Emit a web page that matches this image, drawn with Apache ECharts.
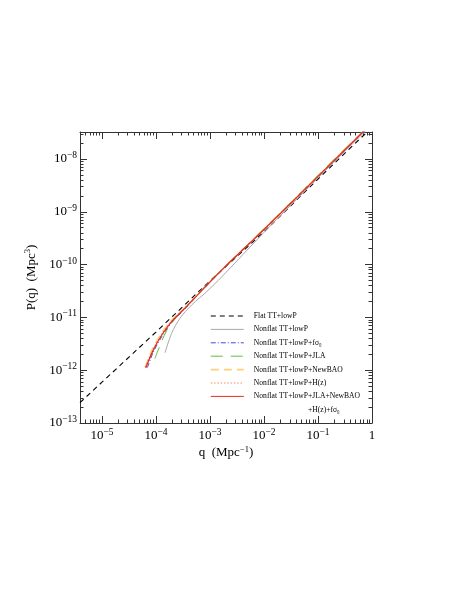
<!DOCTYPE html>
<html><head><meta charset="utf-8">
<script src="https://cdn.jsdelivr.net/npm/echarts@6/dist/echarts.min.js"></script>
<style>html,body{margin:0;padding:0;background:#fff}#c{width:463px;height:599px}</style>
</head><body><div id="c"></div>
<script>
// ---- data (q in Mpc^-1, P in Mpc^3) ----
const seriesNames = ['Flat TT+lowP','Nonflat TT+lowP','Nonflat TT+lowP+fσ₈','Nonflat TT+lowP+JLA','Nonflat TT+lowP+NewBAO','Nonflat TT+lowP+H(z)','Nonflat TT+lowP+JLA+NewBAO'];
const qFlat = [3.92e-6, 1e-5, 1e-4, 1e-3, 1e-2, 1e-1, 1];
const pFlat = [2.43e-13, 5.93e-13, 5.28e-12, 4.90e-11, 4.17e-10, 4.17e-9, 3.98e-8];
const qNonflat = [1.47e-4, 1.95e-4, 2.78e-4, 4.58e-4, 8.69e-4, 1.66e-3, 1e-2, 1e-1, 1];
const pNonflat = [2.14e-12, 5.00e-12, 9.62e-12, 1.72e-11, 3.07e-11, 5.89e-11, 4.07e-10, 4.37e-9, 4.47e-8];
const qFs8 = [6.92e-5, 8.91e-5, 1.29e-4, 1.95e-4, 3.72e-4, 6.46e-4, 1.66e-3, 1e-2, 1e-1, 1];
const pFs8 = [1.12e-12, 2.19e-12, 4.37e-12, 7.94e-12, 1.58e-11, 2.88e-11, 7.76e-11, 4.57e-10, 4.57e-9, 4.68e-8];
const qJLA = [9.55e-5, 1.20e-4, 1.58e-4, 2.24e-4, 3.72e-4, 6.46e-4, 1.66e-3, 1e-2, 1e-1, 1];
const pJLA = [1.66e-12, 3.02e-12, 5.62e-12, 9.33e-12, 1.66e-11, 3.02e-11, 8.13e-11, 4.79e-10, 4.90e-9, 5.01e-8];
const qBAO = [6.31e-5, 8.71e-5, 1.26e-4, 1.91e-4, 3.72e-4, 6.46e-4, 1.66e-3, 1e-2, 1e-1, 1];
const pBAO = [1.17e-12, 2.63e-12, 5.01e-12, 8.71e-12, 1.66e-11, 2.95e-11, 7.94e-11, 4.68e-10, 4.79e-9, 4.90e-8];
const qHz = [6.31e-5, 8.91e-5, 1.29e-4, 1.95e-4, 3.72e-4, 6.46e-4, 1.66e-3, 1e-2, 1e-1, 1];
const pHz = [1.15e-12, 2.51e-12, 4.90e-12, 8.51e-12, 1.64e-11, 2.95e-11, 7.94e-11, 4.62e-10, 4.68e-9, 4.79e-8];
const qAll = [6.46e-5, 8.91e-5, 1.29e-4, 1.95e-4, 3.72e-4, 6.46e-4, 1.66e-3, 1e-2, 1e-1, 1];
const pAll = [1.10e-12, 2.40e-12, 4.68e-12, 8.32e-12, 1.62e-11, 2.95e-11, 7.94e-11, 4.62e-10, 4.68e-9, 4.79e-8];
// axis extents and ticks (decades)
const xMin = 3.92e-6, xMax = 1;
const yMin = 1e-13, yMax = 3.24e-8;
const xMajor = [1e-5, 1e-4, 1e-3, 1e-2, 1e-1, 1];
const yMajor = [1e-13, 1e-12, 1e-11, 1e-10, 1e-9, 1e-8];
const minorMult = [2,3,4,5,6,7,8,9];

const FONT = 'Liberation Serif';
const L = Math.log10;
const toXY = (qs, ps) => qs.map((q, i) => [L(q), L(ps[i])]);
function minors(majors, lo, hi) {
  const out = [];
  const decs = [L(majors[0]) - 1].concat(majors.map(L));
  decs.forEach(d => minorMult.forEach(k => { const v = d + L(k); if (v > L(lo) && v < L(hi)) out.push(v); }));
  return out;
}
const fmt = v => { const n = Math.round(v); return n === 0 ? '{b|1}' : '{b|10}{s|−' + (-n) + '}'; };
const rich = { b: { fontSize: 13, fontFamily: FONT, color: '#000', lineHeight: 17 }, s: { fontSize: 9.5, fontFamily: FONT, color: '#000', verticalAlign: 'top', lineHeight: 11 } };
const nameRich = { n: { fontSize: 13, fontFamily: FONT, color: '#000', lineHeight: 16 }, s: { fontSize: 8.5, fontFamily: FONT, color: '#000', verticalAlign: 'top', lineHeight: 10 } };
const tickStyle = { color: '#333', width: 1 };

function axisDef(dim, gridIndex, pos, major, withLabel) {
  const isX = dim === 'x';
  const majors = isX ? xMajor : yMajor;
  const lo = isX ? xMin : yMin, hi = isX ? xMax : yMax;
  const vals = major ? majors.map(L) : minors(majors, lo, hi);
  const a = {
    type: 'value', position: pos, min: L(lo), max: L(hi), gridIndex: gridIndex,
    axisLine: { show: major, onZero: false, lineStyle: tickStyle }, splitLine: { show: false },
    axisTick: { show: true, inside: true, length: major ? 7 : 3.5, customValues: vals, lineStyle: tickStyle },
    axisLabel: withLabel ? { show: true, customValues: vals, formatter: fmt, rich: rich, margin: isX ? 4 : 3 } : { show: false }
  };
  if (withLabel) {
    a.name = isX ? '{n|q  (Mpc}{s|−1}{n|)}' : '{n|P(q)  (Mpc}{s|3}{n|)}';
    a.nameLocation = 'middle';
    a.nameGap = isX ? 22 : 40;
    if (!isX) a.nameRotate = 90;
    a.nameTextStyle = { rich: nameRich };
  }
  return a;
}

const styles = [
  { color: '#000000', type: [5, 4], width: 1.1 },
  { color: '#a8a8a8', type: 'solid', width: 1 },
  { color: '#3a4fe0', type: [5, 2, 1, 2], width: 1 },
  { color: '#5cbf3a', type: [12, 8], width: 1 },
  { color: '#ffd07a', type: [8, 5], width: 1.2 },
  { color: '#ff8a5c', type: [1.5, 1.8], width: 1.1 },
  { color: '#e82a1f', type: 'solid', width: 1.2 }
];
const legendWidths = [1.1, 1, 1, 1, 1.6, 1.1, 1];
const dataSets = [toXY(qFlat, pFlat), toXY(qNonflat, pNonflat), toXY(qFs8, pFs8), toXY(qJLA, pJLA), toXY(qBAO, pBAO), toXY(qHz, pHz), toXY(qAll, pAll)];

const gridBox = { left: 80, top: 132, width: 292, height: 291, containLabel: false };
const chart = echarts.init(document.getElementById('c'), null, { renderer: 'canvas' });
chart.setOption({
  animation: false,
  backgroundColor: '#fff',
  grid: [Object.assign({}, gridBox), Object.assign({}, gridBox)],
  xAxis: [axisDef('x', 0, 'bottom', true, true), axisDef('x', 0, 'top', true, false), axisDef('x', 1, 'bottom', false, false), axisDef('x', 1, 'top', false, false)],
  yAxis: [axisDef('y', 0, 'left', true, true), axisDef('y', 0, 'right', true, false), axisDef('y', 1, 'left', false, false), axisDef('y', 1, 'right', false, false)],
  legend: {
    orient: 'vertical', left: 210, top: 311, padding: 0, itemWidth: 33, itemHeight: 8, itemGap: 3.4,
    selectedMode: false,
    itemStyle: { color: 'rgba(0,0,0,0)', borderWidth: 0, opacity: 0 },
    lineStyle: { width: 1 },
    textStyle: { fontFamily: FONT, fontSize: 7.6, color: '#000', lineHeight: 10, padding: [0, 0, 0, 5] },
    data: seriesNames.map((n, i) => ({ name: n, lineStyle: { width: legendWidths[i] } }))
  },
  graphic: [{ type: 'text', left: 308, top: 406, style: { text: '+H(z)+fσ₈', font: '7.6px "Liberation Serif"', fill: '#000' } }],
  series: dataSets.map((d, i) => ({
    name: seriesNames[i], type: 'line', data: d, xAxisIndex: 0, yAxisIndex: 0,
    showSymbol: false, symbol: 'none', smooth: i === 0 ? false : 0.3, clip: true,
    lineStyle: styles[i], itemStyle: { color: styles[i].color }, z: 2 + i
  }))
});
</script></body></html>
